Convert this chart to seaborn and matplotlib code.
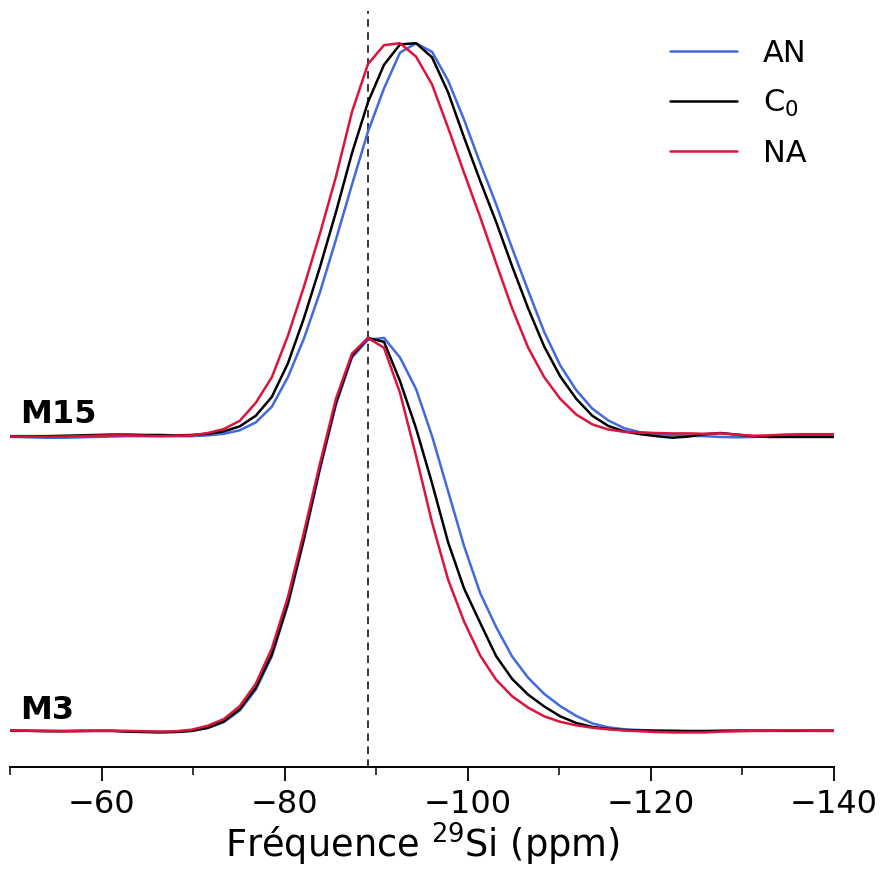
import numpy as np
import pandas as pd
import seaborn as sns
import matplotlib.pyplot as plt
from matplotlib.ticker import MultipleLocator

# chemical shift grid (ppm), shared by all spectra
ppm = [-48.85, -50.60, -52.35, -54.10, -55.85, -57.60, -59.35, -61.10, -62.85, -64.60,
       -66.35, -68.10, -69.85, -71.60, -73.35, -75.10, -76.85, -78.60, -80.35, -82.10,
       -83.85, -85.60, -87.35, -89.10, -90.85, -92.60, -94.35, -96.10, -97.85, -99.60,
       -101.35, -103.10, -104.85, -106.60, -108.35, -110.10, -111.85, -113.60, -115.35, -117.10,
       -118.85, -120.60, -122.35, -124.10, -125.85, -127.60, -129.35, -131.10, -132.85, -134.60,
       -136.35, -138.10, -139.85, -141.60]

# normalised intensities, sample M3
m3_an = [0.002, 0.001, 0.0, 0.0, 0.0, 0.0, 0.0, 0.0, -0.001, -0.002, -0.002, -0.002,
         0.000, 0.007, 0.022, 0.052, 0.105, 0.190, 0.320, 0.485, 0.665, 0.830, 0.950, 0.995,
         1.000, 0.950, 0.870, 0.750, 0.610, 0.470, 0.351, 0.264, 0.189, 0.135, 0.094, 0.063,
         0.038, 0.019, 0.009, 0.004, 0.002, 0.001, 0.0, 0.0, 0.0, 0.0, 0.001, 0.001,
         0.001, 0.001, 0.001, 0.001, 0.001, 0.001]
m3_c0 = [0.001, 0.0, 0.0, -0.001, -0.001, 0.0, 0.0, 0.0, -0.002, -0.003, -0.004, -0.003,
         0.000, 0.008, 0.024, 0.055, 0.110, 0.195, 0.325, 0.490, 0.670, 0.835, 0.955, 1.000,
         0.990, 0.890, 0.770, 0.630, 0.480, 0.362, 0.275, 0.190, 0.132, 0.092, 0.062, 0.037,
         0.020, 0.010, 0.005, 0.002, 0.001, 0.0, 0.0, -0.001, -0.001, 0.0, 0.0, 0.0,
         0.0, 0.0, 0.0, 0.0, 0.0, 0.0]
m3_na = [0.001, 0.001, 0.0, 0.0, -0.001, -0.001, 0.0, 0.0, 0.0, -0.001, -0.002, -0.001,
         0.003, 0.013, 0.030, 0.063, 0.120, 0.210, 0.340, 0.505, 0.680, 0.845, 0.960, 1.000,
         0.975, 0.860, 0.700, 0.530, 0.385, 0.278, 0.192, 0.130, 0.088, 0.059, 0.037, 0.023,
         0.014, 0.008, 0.004, 0.001, -0.001, -0.003, -0.004, -0.004, -0.004, -0.002, -0.001, 0.0,
         0.0, 0.001, 0.001, 0.0, 0.0, 0.0]

# normalised intensities, sample M15
m15_an = [-0.001, -0.002, -0.003, -0.004, -0.004, -0.003, -0.002, -0.001, 0.0, 0.0, 0.0, 0.0,
          0.000, 0.002, 0.006, 0.015, 0.035, 0.075, 0.150, 0.248, 0.366, 0.500, 0.640, 0.775,
          0.885, 0.976, 1.000, 0.978, 0.905, 0.805, 0.695, 0.590, 0.478, 0.370, 0.265, 0.180,
          0.117, 0.070, 0.040, 0.020, 0.010, 0.006, 0.003, 0.001, 0.000, -0.002, -0.003, -0.002,
          0.0, 0.001, 0.002, 0.003, 0.003, 0.003]
m15_c0 = [0.0, 0.0, 0.0, 0.0, 0.001, 0.002, 0.003, 0.004, 0.004, 0.003, 0.003, 0.002,
          0.003, 0.006, 0.012, 0.025, 0.052, 0.100, 0.185, 0.300, 0.430, 0.570, 0.720, 0.850,
          0.945, 0.997, 1.000, 0.964, 0.875, 0.760, 0.650, 0.545, 0.432, 0.325, 0.228, 0.152,
          0.095, 0.052, 0.026, 0.012, 0.005, 0.0, -0.004, -0.001, 0.005, 0.008, 0.004, 0.0,
          -0.002, -0.002, -0.002, -0.002, -0.002, -0.002]
m15_na = [0.0, -0.001, -0.001, -0.002, -0.001, 0.0, 0.001, 0.002, 0.002, 0.001, 0.0, 0.001,
          0.002, 0.008, 0.018, 0.039, 0.085, 0.150, 0.255, 0.380, 0.515, 0.660, 0.825, 0.947,
          0.995, 1.000, 0.966, 0.895, 0.785, 0.670, 0.558, 0.440, 0.325, 0.225, 0.150, 0.095,
          0.055, 0.030, 0.017, 0.011, 0.009, 0.008, 0.007, 0.007, 0.006, 0.007, 0.004, 0.001,
          0.002, 0.004, 0.005, 0.005, 0.005, 0.005]

series = ["AN", "C$_0$", "NA"]
palette = {"AN": "#4169E1", "C$_0$": "black", "NA": "#DC143C"}
samples = {
    "M3": (0.0, [m3_an, m3_c0, m3_na]),
    "M15": (0.75, [m15_an, m15_c0, m15_na]),
}
ref_shift = -89.1

frames = []
for sample, (shift, curves) in samples.items():
    for name, vals in zip(series, curves):
        frames.append(pd.DataFrame({
            "ppm": ppm,
            "intensity": np.array(vals) + shift,
            "serie": name,
            "sample": sample,
        }))
df = pd.concat(frames, ignore_index=True)

sns.set_theme(style="ticks")
plt.rcParams["font.family"] = ["DejaVu Sans"]
plt.rcParams["text.color"] = "black"
plt.rcParams["axes.labelcolor"] = "black"
plt.rcParams["xtick.color"] = "black"
plt.rcParams["axes.edgecolor"] = "black"

fig = plt.figure(figsize=(8.8, 8.7), dpi=100)
ax = fig.add_axes([0.01136, 0.11724, 0.93636, 0.86897])

sns.lineplot(data=df, x="ppm", y="intensity", hue="serie", hue_order=series,
             units="sample", estimator=None, sort=False, palette=palette,
             lw=1.8, ax=ax)

ax.axvline(ref_shift, color="black", ls=(0, (5, 3.5)), lw=1.1, zorder=0)

ax.text(-51.1, 0.786, "M15", fontsize=23, fontweight="bold", va="baseline")
ax.text(-51.1, 0.033, "M3", fontsize=23, fontweight="bold", va="baseline")

ax.set_xlim(-50, -140)
ax.set_ylim(-0.092, 1.832)
ax.set_yticks([])
ax.set_ylabel("")
for side in ["left", "top", "right"]:
    ax.spines[side].set_visible(False)
ax.spines["bottom"].set_linewidth(1.4)

ax.set_xticks([-60, -80, -100, -120, -140])
ax.xaxis.set_minor_locator(MultipleLocator(10))
ax.tick_params(axis="x", which="major", length=10, width=1.3, labelsize=23, pad=5)
ax.tick_params(axis="x", which="minor", length=6, width=1.1)
ax.set_xlabel("Fréquence $^{29}$Si (ppm)", fontsize=26.5, labelpad=1)

handles, labels = ax.get_legend_handles_labels()
ax.legend(handles, labels, loc="upper right", frameon=False, fontsize=22,
          handlelength=2.2, handletextpad=0.85, labelspacing=0.65)

fig.savefig("out.png", dpi=100)
